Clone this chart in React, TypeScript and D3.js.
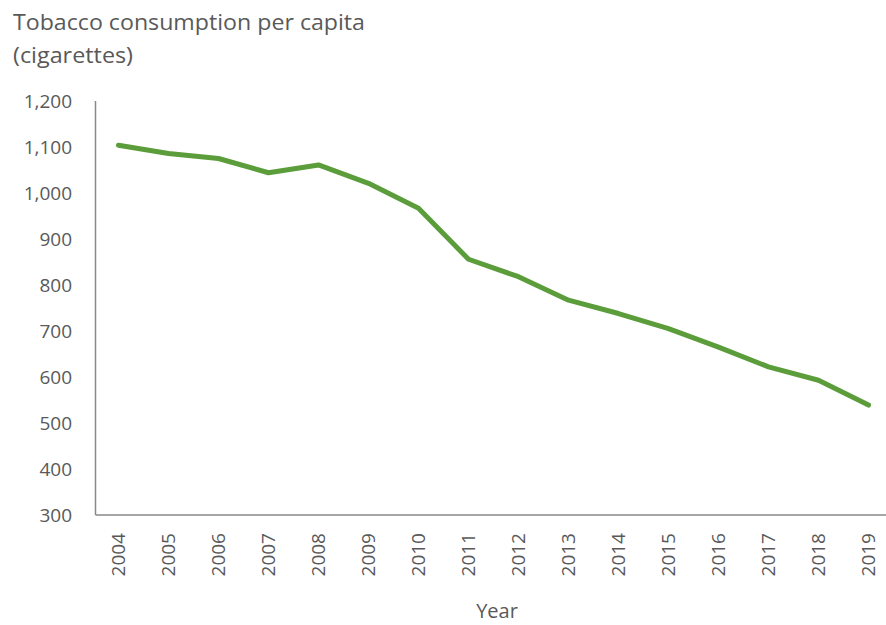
import * as d3 from "d3";

const YEARS = [
  "2004", "2005", "2006", "2007", "2008", "2009", "2010", "2011",
  "2012", "2013", "2014", "2015", "2016", "2017", "2018", "2019",
];
const CONSUMPTION = [
  1104, 1086, 1075, 1044, 1061, 1021, 967, 856,
  818, 767, 738, 705, 665, 622, 593, 539,
];
const Y_TICKS = [300, 400, 500, 600, 700, 800, 900, 1000, 1100, 1200];
const TITLE = ["Tobacco consumption per capita", "(cigarettes)"];
const X_TITLE = "Year";

const W = 886;
const H = 625;
const AXIS_X = 95.5; // y axis line
const FONT = "'Open Sans', 'Noto Sans', sans-serif";
const TEXT = "#595959";

export default function App() {
  const x = d3
    .scalePoint<string>()
    .domain(YEARS)
    .range([118.5, 868.5]);
  const y = d3.scaleLinear().domain([300, 1200]).range([515, 101]);

  const line = d3
    .line<number>()
    .x((_, i) => x(YEARS[i]) as number)
    .y((d) => y(d));

  const fmt = d3.format(",");

  return (
    <svg
      width={W}
      height={H}
      style={{ position: "absolute", left: 0, top: 0, background: "#fff" }}
    >
      {/* title, two lines */}
      <text x={13} y={30} fontFamily={FONT} fontSize={21} fill={TEXT}
        textLength={352} lengthAdjust="spacingAndGlyphs">
        {TITLE[0]}
      </text>
      <text x={13} y={63} fontFamily={FONT} fontSize={21} fill={TEXT}
        textLength={120} lengthAdjust="spacingAndGlyphs">
        {TITLE[1]}
      </text>

      {/* y ticks */}
      {Y_TICKS.map((v) => (
        <text
          key={v}
          x={72}
          y={y(v)}
          dy="0.36em"
          textAnchor="end"
          fontFamily={FONT}
          fontSize={19}
          fill={TEXT}
        >
          {fmt(v)}
        </text>
      ))}

      {/* axes */}
      <line
        x1={AXIS_X}
        x2={AXIS_X}
        y1={y(1200)}
        y2={y(300)}
        stroke="#898989"
        strokeWidth={1.5}
      />
      <line
        x1={AXIS_X}
        x2={W}
        y1={y(300)}
        y2={y(300)}
        stroke="#898989"
        strokeWidth={1.5}
      />

      {/* x tick labels, rotated */}
      {YEARS.map((yr) => {
        const cx = x(yr) as number;
        return (
          <text
            key={yr}
            transform={`translate(${cx},533) rotate(-90)`}
            textAnchor="end"
            dy="0.36em"
            fontFamily={FONT}
            fontSize={19}
            fill={TEXT}
          >
            {yr}
          </text>
        );
      })}

      <text
        x={497}
        y={618}
        textAnchor="middle"
        fontFamily={FONT}
        fontSize={20}
        fill={TEXT}
      >
        {X_TITLE}
      </text>

      <path
        d={line(CONSUMPTION) ?? ""}
        fill="none"
        stroke="#5b9d3a"
        strokeWidth={5}
        strokeLinejoin="round"
        strokeLinecap="round"
      />
    </svg>
  );
}
